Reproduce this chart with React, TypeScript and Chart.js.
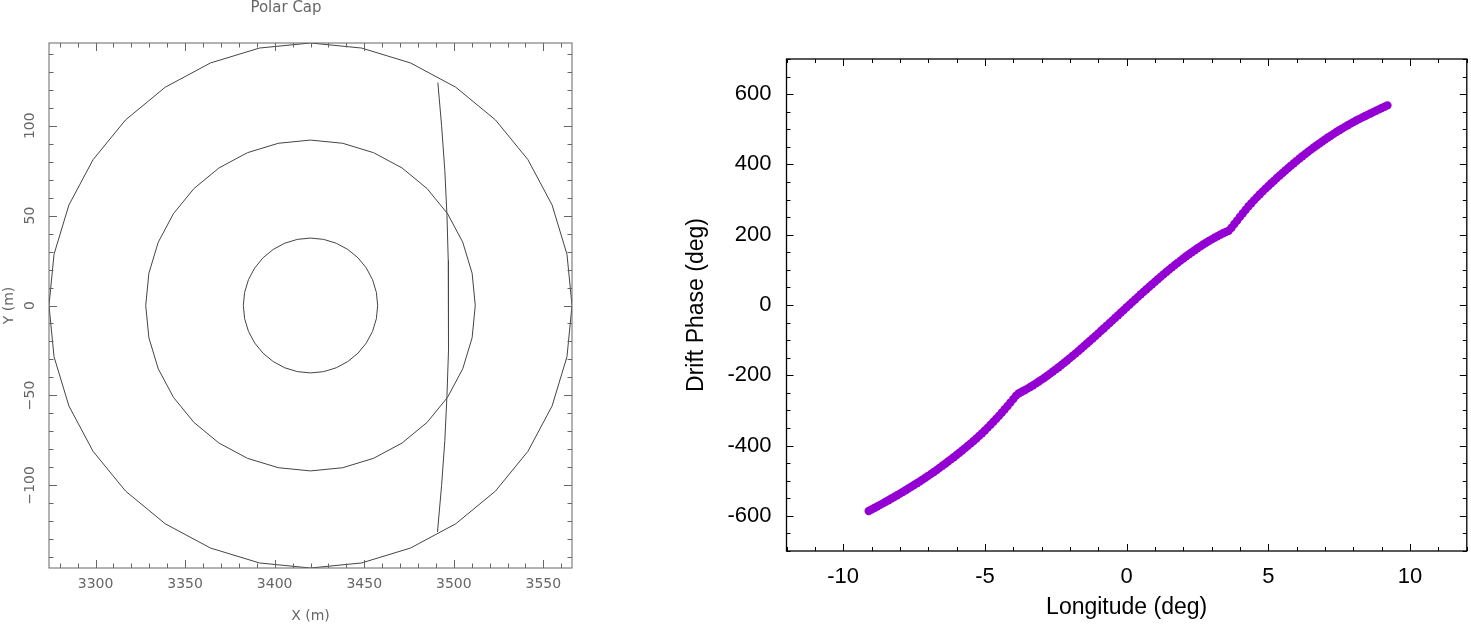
import React, { useEffect, useRef } from 'react';
import { Chart, registerables } from 'chart.js';

Chart.register(...registerables);

// ---------- Left panel: Polar Cap ----------
const capTitle = 'Polar Cap';
const capXTitle = 'X (m)';
const capYTitle = 'Y (m)';
const capXRange = [3274, 3566];
const capYRange = [-146, 146];
const capXTicks = [3300, 3350, 3400, 3450, 3500, 3550];
const capYTicks = [-100, -50, 0, 50, 100];
const capCenter = [3420, 0];
const capRadii = [146, 92, 37.5];
const capSides = 32;
const cutY = [124, 100, 75, 50, 25, 0, -25, -50, -75, -100, -126];
const cutX = [3491.1, 3493.2, 3495.0, 3496.2, 3496.9, 3497.2, 3496.9, 3496.2, 3495.0, 3493.2, 3490.9];

// ---------- Right panel: Drift phase ----------
const lonTitle = 'Longitude (deg)';
const phaseTitle = 'Drift Phase (deg)';
const lonRange = [-12, 12];
const phaseRange = [-700, 700];
const lonTicks = [-10, -5, 0, 5, 10];
const phaseTicks = [-600, -400, -200, 0, 200, 400, 600];

const longitude = [
  -9.1, -9.0, -8.9, -8.8, -8.7, -8.6, -8.5, -8.4, -8.3, -8.2, -8.1, -8.0, -7.9, -7.8,
  -7.7, -7.6, -7.5, -7.4, -7.3, -7.2, -7.1, -7.0, -6.9, -6.8, -6.7, -6.6,
  -6.5, -6.4, -6.3, -6.2, -6.1, -6.0, -5.9, -5.8, -5.7, -5.6, -5.5, -5.4,
  -5.3, -5.2, -5.1, -5.0, -4.9, -4.8, -4.7, -4.6, -4.5, -4.4, -4.3, -4.2, -4.1, -4.0, -3.9,
  -3.8, -3.7, -3.6, -3.5, -3.4, -3.3, -3.2, -3.1, -3.0, -2.9,
  -2.8, -2.7, -2.6, -2.5, -2.4, -2.3, -2.2, -2.1, -2.0, -1.9,
  -1.8, -1.7, -1.6, -1.5, -1.4, -1.3, -1.2, -1.1, -1.0, -0.9,
  -0.8, -0.7, -0.6, -0.5, -0.4, -0.3, -0.2, -0.1, 0.0,
  0.1, 0.2, 0.3, 0.4, 0.5, 0.6, 0.7, 0.8, 0.9, 1.0,
  1.1, 1.2, 1.3, 1.4, 1.5, 1.6, 1.7, 1.8, 1.9, 2.0,
  2.1, 2.2, 2.3, 2.4, 2.5, 2.6, 2.7, 2.8, 2.9, 3.0,
  3.1, 3.2, 3.3, 3.4, 3.5, 3.6,
  3.7, 3.8, 3.9, 4.0, 4.1, 4.2, 4.3,
  4.4, 4.5, 4.6, 4.7, 4.8, 4.9, 5.0,
  5.1, 5.2, 5.3, 5.4, 5.5, 5.6, 5.7, 5.8, 5.9, 6.0,
  6.1, 6.2, 6.3, 6.4, 6.5, 6.6, 6.7, 6.8, 6.9, 7.0,
  7.1, 7.2, 7.3, 7.4, 7.5, 7.6, 7.7, 7.8, 7.9, 8.0,
  8.1, 8.2, 8.3, 8.4, 8.5, 8.6, 8.7, 8.8, 8.9, 9.0,
  9.1, 9.2,
];

const driftPhase = [
  -586.0, -581.8, -577.5, -573.2, -568.8, -564.4, -559.9, -555.4, -550.8, -546.2, -541.5, -536.8, -532.0, -527.2,
  -522.3, -517.3, -512.3, -507.2, -502.0, -496.8, -491.5, -486.1, -480.6, -475.0, -469.3, -463.5,
  -457.6, -451.6, -445.5, -439.3, -433.1, -426.8, -420.4, -413.9, -407.3, -400.6, -393.8, -386.9,
  -379.7, -372.3, -364.7, -356.9, -348.9, -340.7, -332.3, -323.7, -314.9, -305.9, -296.7, -287.3, -277.7, -267.9, -257.9,
  -251.3, -247.0, -242.6, -238.0, -233.2, -228.2, -223.1, -217.8, -212.4, -206.8,
  -201.1, -195.3, -189.3, -183.2, -177.0, -170.7, -164.3, -157.7, -151.1, -144.4,
  -137.6, -130.7, -123.8, -116.7, -109.6, -102.5, -95.3, -88.0, -80.7, -73.4,
  -66.0, -58.6, -51.2, -43.8, -36.3, -28.9, -21.4, -14.0, -6.5,
  0.9, 8.3, 15.7, 23.1, 30.4, 37.7, 44.9, 52.1, 59.3, 66.3,
  73.3, 80.3, 87.1, 93.9, 100.6, 107.2, 113.7, 120.0, 126.3, 132.5,
  138.6, 144.5, 150.3, 155.9, 161.5, 166.8, 172.1, 177.1, 182.0, 186.8,
  191.4, 195.7, 200.0, 204.0, 207.8, 211.4,
  220.0, 230.4, 240.7, 251.0, 261.1, 271.0, 280.8,
  289.7, 298.4, 306.9, 315.2, 323.3, 331.1, 338.7,
  346.3, 353.8, 361.2, 368.5, 375.7, 382.8, 389.8, 396.7, 403.5, 410.2,
  416.8, 423.3, 429.7, 436.0, 442.1, 448.1, 454.0, 459.8, 465.5, 471.1,
  476.5, 481.8, 487.0, 492.1, 497.1, 502.0, 506.8, 511.5, 516.1, 520.5,
  524.8, 529.0, 533.1, 537.1, 541.1, 545.0, 548.9, 552.8, 556.6, 560.4,
  564.2, 568.0,
];

// polygon outline of a circle of given radius (geometric construction)
function circleOutline(r: number) {
  const pts: { x: number; y: number }[] = [];
  for (let i = 0; i <= capSides; i++) {
    const a = (i / capSides) * Math.PI * 2;
    pts.push({ x: capCenter[0] + r * Math.cos(a), y: capCenter[1] + r * Math.sin(a) });
  }
  return pts;
}

type FrameCfg = {
  color: string;
  frameWidth: number;
  tickWidth: number;
  majorLen: number;
  minorLen: number;
  xMajor: number[];
  yMajor: number[];
  xMinorStep: number;
  yMinorStep: number;
};

function frameTicksPlugin(cfg: FrameCfg) {
  return {
    id: 'frameTicks',
    afterDatasetsDraw(chart: any) {
      const { ctx, chartArea: a } = chart;
      const xs = chart.scales.x;
      const ys = chart.scales.y;
      ctx.save();
      ctx.strokeStyle = cfg.color;
      ctx.lineWidth = cfg.tickWidth;
      ctx.beginPath();
      const addX = (v: number, len: number) => {
        const p = Math.round(xs.getPixelForValue(v)) + 0.5;
        ctx.moveTo(p, a.bottom);
        ctx.lineTo(p, a.bottom - len);
        ctx.moveTo(p, a.top);
        ctx.lineTo(p, a.top + len);
      };
      const addY = (v: number, len: number) => {
        const p = Math.round(ys.getPixelForValue(v)) + 0.5;
        ctx.moveTo(a.left, p);
        ctx.lineTo(a.left + len, p);
        ctx.moveTo(a.right, p);
        ctx.lineTo(a.right - len, p);
      };
      const minors = (scale: any, step: number, majors: number[], add: (v: number, l: number) => void) => {
        const s = Math.ceil(scale.min / step - 1e-9);
        const e = Math.floor(scale.max / step + 1e-9);
        for (let i = s; i <= e; i++) {
          const v = i * step;
          if (!majors.some((m) => Math.abs(m - v) < step / 100)) add(v, cfg.minorLen);
        }
      };
      cfg.xMajor.forEach((v) => addX(v, cfg.majorLen));
      cfg.yMajor.forEach((v) => addY(v, cfg.majorLen));
      minors(xs, cfg.xMinorStep, cfg.xMajor, addX);
      minors(ys, cfg.yMinorStep, cfg.yMajor, addY);
      ctx.stroke();
      ctx.lineWidth = cfg.frameWidth;
      ctx.strokeRect(a.left, a.top, a.right - a.left, a.bottom - a.top);
      ctx.restore();
    },
  };
}

const greyColor = '#666';
const greyFont = { family: '"DejaVu Sans", "Liberation Sans", sans-serif', size: 14, weight: 'normal' as any };
const sansTick = { family: '"Liberation Sans", Arial, sans-serif', size: 22 };
const sansTitle = { family: '"Liberation Sans", Arial, sans-serif', size: 23 };

export default function App() {
  const leftRef = useRef<HTMLCanvasElement | null>(null);
  const rightRef = useRef<HTMLCanvasElement | null>(null);

  useEffect(() => {
    const lineDatasets: any[] = capRadii.map((r) => ({
      data: circleOutline(r),
      showLine: true,
      borderColor: '#444',
      borderWidth: 1,
      pointRadius: 0,
      fill: false,
      tension: 0,
    }));
    lineDatasets.push({
      data: cutY.map((y, i) => ({ x: cutX[i], y })),
      showLine: true,
      borderColor: '#444',
      borderWidth: 1,
      pointRadius: 0,
      fill: false,
      tension: 0,
    });

    const left = new Chart(leftRef.current as HTMLCanvasElement, {
      type: 'scatter',
      data: { datasets: lineDatasets },
      plugins: [
        frameTicksPlugin({
          color: '#666',
          frameWidth: 1,
          tickWidth: 1,
          majorLen: 8,
          minorLen: 4.5,
          xMajor: capXTicks,
          yMajor: capYTicks,
          xMinorStep: 10,
          yMinorStep: 10,
        }),
      ],
      options: {
        responsive: false,
        animation: false,
        devicePixelRatio: 1,
        events: [],
        layout: { padding: { left: 0, right: 50, top: 0, bottom: 0 } },
        plugins: {
          legend: { display: false },
          tooltip: { enabled: false },
          title: {
            display: true,
            text: capTitle,
            color: greyColor,
            font: { ...greyFont, size: 15, lineHeight: 1 },
            padding: { top: 1, bottom: 27 },
          },
        },
        scales: {
          x: {
            type: 'linear',
            min: capXRange[0],
            max: capXRange[1],
            grid: { display: false, drawTicks: false },
            border: { display: false },
            afterBuildTicks: (s: any) => {
              s.ticks = capXTicks.map((value) => ({ value }));
            },
            afterFit: (s: any) => {
              s.height = 58;
            },
            ticks: {
              padding: 8,
              color: greyColor,
              font: greyFont,
              autoSkip: false,
              maxRotation: 0,
              callback: (v: any) => String(v),
            },
            title: {
              display: true,
              text: capXTitle,
              color: greyColor,
              font: greyFont,
              padding: { top: 0, bottom: 1 },
            },
          },
          y: {
            type: 'linear',
            min: capYRange[0],
            max: capYRange[1],
            grid: { display: false, drawTicks: false },
            border: { display: false },
            afterBuildTicks: (s: any) => {
              s.ticks = capYTicks.map((value) => ({ value }));
            },
            afterFit: (s: any) => {
              s.width = 49;
            },
            ticks: {
              padding: -1,
              minRotation: 90,
              maxRotation: 90,
              crossAlign: 'center',
              autoSkip: false,
              color: greyColor,
              font: greyFont,
              callback: (v: any) => String(v).replace('-', '\u2212'),
            },
            title: {
              display: true,
              text: capYTitle,
              color: greyColor,
              font: greyFont,
              padding: { top: 1, bottom: 0 },
            },
          },
        },
      } as any,
    });

    const right = new Chart(rightRef.current as HTMLCanvasElement, {
      type: 'scatter',
      data: {
        datasets: [
          {
            data: longitude.map((x, i) => ({ x, y: driftPhase[i] })),
            pointRadius: 4.2,
            pointBackgroundColor: '#9400d3',
            pointBorderWidth: 0,
            showLine: false,
          },
        ],
      },
      plugins: [
        frameTicksPlugin({
          color: '#000',
          frameWidth: 1.3,
          tickWidth: 1,
          majorLen: 7,
          minorLen: 4,
          xMajor: lonTicks,
          yMajor: phaseTicks,
          xMinorStep: 1,
          yMinorStep: 50,
        }),
      ],
      options: {
        responsive: false,
        animation: false,
        devicePixelRatio: 1,
        events: [],
        layout: { padding: { left: 50, right: 1.5, top: 59, bottom: 0 } },
        plugins: {
          legend: { display: false },
          tooltip: { enabled: false },
        },
        scales: {
          x: {
            type: 'linear',
            min: lonRange[0],
            max: lonRange[1],
            grid: { display: false, drawTicks: false },
            border: { display: false },
            afterBuildTicks: (s: any) => {
              s.ticks = lonTicks.map((value) => ({ value }));
            },
            afterFit: (s: any) => {
              s.height = 75;
            },
            ticks: {
              padding: 13,
              color: '#000',
              font: sansTick,
              autoSkip: false,
              maxRotation: 0,
              callback: (v: any) => String(v),
            },
            title: {
              display: true,
              text: lonTitle,
              color: '#000',
              font: sansTitle,
              padding: { top: 0, bottom: 5 },
            },
          },
          y: {
            type: 'linear',
            min: phaseRange[0],
            max: phaseRange[1],
            grid: { display: false, drawTicks: false },
            border: { display: false },
            afterBuildTicks: (s: any) => {
              s.ticks = phaseTicks.map((value) => ({ value }));
            },
            afterFit: (s: any) => {
              s.width = 114.5;
            },
            ticks: {
              padding: 15,
              color: '#000',
              font: sansTick,
              autoSkip: false,
              callback: (v: any) => String(v),
            },
            title: {
              display: true,
              text: phaseTitle,
              color: '#000',
              font: sansTitle,
              padding: { top: 11, bottom: 0 },
            },
          },
        },
      } as any,
    });

    return () => {
      left.destroy();
      right.destroy();
    };
  }, []);

  return (
    <div style={{ position: 'absolute', left: 0, top: 0, width: 1471, height: 626, background: '#fff' }}>
      <canvas ref={leftRef} width={622} height={626} style={{ position: 'absolute', left: 0, top: 0 }} />
      <canvas ref={rightRef} width={849} height={626} style={{ position: 'absolute', left: 622, top: 0 }} />
    </div>
  );
}
